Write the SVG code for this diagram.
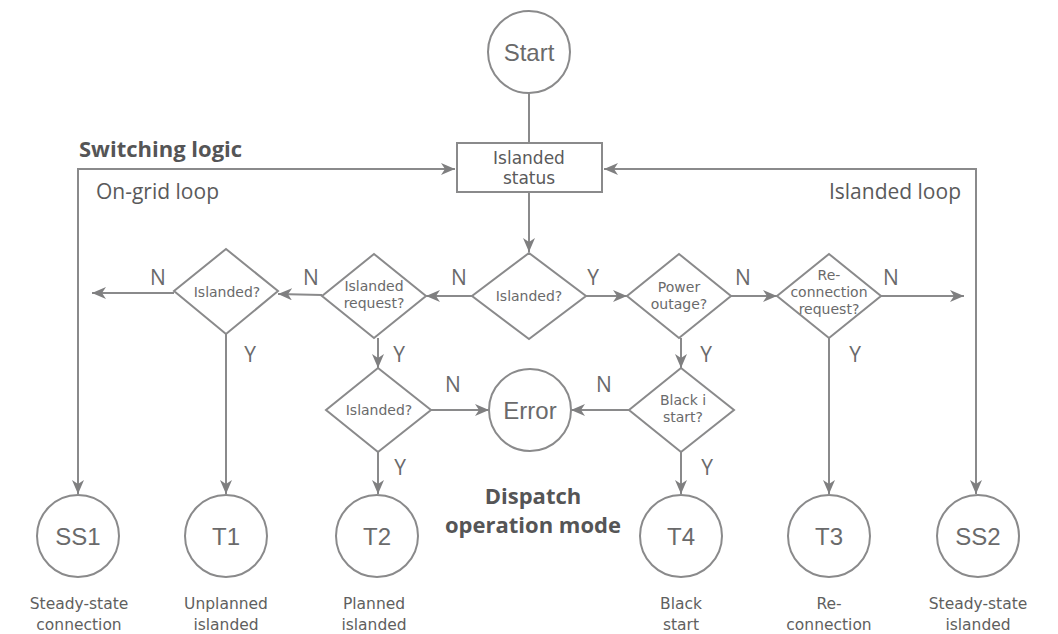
<svg xmlns="http://www.w3.org/2000/svg" width="1058" height="634" viewBox="0 0 1058 634">
<defs>
<marker id="ah" viewBox="0 0 14 12" refX="14" refY="6" markerWidth="14" markerHeight="12" markerUnits="userSpaceOnUse" orient="auto-start-reverse">
<path d="M0,0 L14,6 L0,12 L4,6 Z" fill="#7f7f80"/>
</marker>
<style>
.sh{fill:#fff;stroke:#8a8a8b;stroke-width:2}
.ln{fill:none;stroke:#8a8a8b;stroke-width:2}
.ar{fill:none;stroke:#8a8a8b;stroke-width:2;marker-end:url(#ah)}
.ar2{fill:none;stroke:#8a8a8b;stroke-width:2;marker-start:url(#ah);marker-end:url(#ah)}
.cl{font-family:"Liberation Sans",Arial,sans-serif;font-size:24px;fill:#6a6a6b;text-anchor:middle}
.dt{font-family:"DejaVu Sans","Open Sans",sans-serif;font-size:14px;fill:#6a6a6b;text-anchor:middle}
.bx{font-family:"DejaVu Sans","Open Sans",sans-serif;font-size:17px;fill:#5a5a5b;text-anchor:middle}
.yn{font-family:"Open Sans","Noto Sans",sans-serif;font-size:21px;fill:#6a6a6b;text-anchor:middle}
.lb{font-family:"DejaVu Sans","Open Sans",sans-serif;font-size:15.5px;fill:#5f5f60;text-anchor:middle}
.lp{font-family:"Open Sans","Noto Sans",sans-serif;font-size:21px;fill:#5a5a5b}
.tt{font-family:"Open Sans","Noto Sans",sans-serif;font-size:22px;font-weight:bold;fill:#555556}
</style>
</defs>
<rect width="1058" height="634" fill="#fff"/>

<g id="connectors">
<line class="ln" x1="529" y1="93" x2="529" y2="143"/>
<line class="ar" x1="529" y1="192" x2="529" y2="252"/>
<polyline class="ar2" points="78,494 78,169 455,169"/>
<polyline class="ar2" points="976,494 976,169 604,169"/>
<line class="ar" x1="472" y1="296" x2="426" y2="296"/>
<line class="ar" x1="322" y1="295" x2="278" y2="294"/>
<line class="ar" x1="174" y1="293" x2="92" y2="293"/>
<line class="ar" x1="586" y1="296" x2="627" y2="296"/>
<line class="ar" x1="731" y1="296" x2="777" y2="296"/>
<line class="ar" x1="881" y1="296" x2="964" y2="296"/>
<line class="ar" x1="226" y1="334" x2="226" y2="494"/>
<line class="ar" x1="378" y1="338" x2="378" y2="368"/>
<line class="ar" x1="681" y1="338" x2="681" y2="368"/>
<line class="ar" x1="829" y1="338" x2="829" y2="494"/>
<line class="ar" x1="378" y1="452" x2="378" y2="494"/>
<line class="ar" x1="681" y1="452" x2="681" y2="494"/>
<line class="ar" x1="431" y1="410" x2="489" y2="410"/>
<line class="ar" x1="629" y1="410" x2="571" y2="410"/>
</g>

<g id="labels">
<text class="yn" x="158" y="285">N</text>
<text class="yn" x="311" y="285">N</text>
<text class="yn" x="459" y="285">N</text>
<text class="yn" x="593" y="285">Y</text>
<text class="yn" x="743" y="285">N</text>
<text class="yn" x="891" y="285">N</text>
<text class="yn" x="250" y="362">Y</text>
<text class="yn" x="399" y="362">Y</text>
<text class="yn" x="706" y="362">Y</text>
<text class="yn" x="855" y="362">Y</text>
<text class="yn" x="453" y="392">N</text>
<text class="yn" x="604" y="392">N</text>
<text class="yn" x="400" y="475">Y</text>
<text class="yn" x="707" y="475">Y</text>
<text class="tt" x="79" y="157">Switching logic</text>
<text class="lp" x="96" y="199">On-grid loop</text>
<text class="lp" x="961" y="199" text-anchor="end">Islanded loop</text>
<text class="tt" x="533" y="504" text-anchor="middle">Dispatch</text>
<text class="tt" x="533" y="533" text-anchor="middle">operation mode</text>
</g>

<g id="start"><circle class="sh" cx="529" cy="52" r="41"/><text class="cl" x="529" y="61">Start</text></g>
<g id="status"><rect class="sh" x="457" y="143" width="145" height="49"/><text class="bx" x="529" y="164">Islanded</text><text class="bx" x="529" y="184">status</text></g>

<g id="d-main"><polygon class="sh" points="529,253 586,296 529,339 472,296"/><text class="dt" x="529" y="301">Islanded?</text></g>
<g id="d-req"><polygon class="sh" points="374,254 426,296 374,338 322,296"/><text class="dt" x="374" y="291">Islanded</text><text class="dt" x="374" y="308">request?</text></g>
<g id="d-isl1"><polygon class="sh" points="226,249 278,291 226,334 174,291"/><text class="dt" x="227" y="297">Islanded?</text></g>
<g id="d-power"><polygon class="sh" points="679,254 731,296 679,338 627,296"/><text class="dt" x="679" y="292">Power</text><text class="dt" x="679" y="309">outage?</text></g>
<g id="d-recon"><polygon class="sh" points="829,254 881,296 829,338 777,296"/><text class="dt" x="829" y="280">Re-</text><text class="dt" x="829" y="297">connection</text><text class="dt" x="829" y="314">request?</text></g>
<g id="d-isl2"><polygon class="sh" points="378,368 431,410 378,452 326,410"/><text class="dt" x="379" y="415">Islanded?</text></g>
<g id="d-black"><polygon class="sh" points="681,368 734,410 681,452 629,410"/><text class="dt" x="683" y="405">Black i</text><text class="dt" x="683" y="422">start?</text></g>
<g id="error"><circle class="sh" cx="530" cy="410" r="41"/><text class="cl" x="530" y="419">Error</text></g>

<g id="ss1"><circle class="sh" cx="78" cy="536" r="41"/><text class="cl" x="78" y="545">SS1</text><text class="lb" x="79" y="609">Steady-state</text><text class="lb" x="79" y="630">connection</text></g>
<g id="t1"><circle class="sh" cx="226" cy="536" r="41"/><text class="cl" x="226" y="545">T1</text><text class="lb" x="226" y="609">Unplanned</text><text class="lb" x="226" y="630">islanded</text></g>
<g id="t2"><circle class="sh" cx="377" cy="536" r="41"/><text class="cl" x="377" y="545">T2</text><text class="lb" x="374" y="609">Planned</text><text class="lb" x="374" y="630">islanded</text></g>
<g id="t4"><circle class="sh" cx="681" cy="536" r="41"/><text class="cl" x="681" y="545">T4</text><text class="lb" x="681" y="609">Black</text><text class="lb" x="681" y="630">start</text></g>
<g id="t3"><circle class="sh" cx="829" cy="536" r="41"/><text class="cl" x="829" y="545">T3</text><text class="lb" x="829" y="609">Re-</text><text class="lb" x="829" y="630">connection</text></g>
<g id="ss2"><circle class="sh" cx="978" cy="536" r="41"/><text class="cl" x="978" y="545">SS2</text><text class="lb" x="978" y="609">Steady-state</text><text class="lb" x="978" y="630">islanded</text></g>
</svg>
